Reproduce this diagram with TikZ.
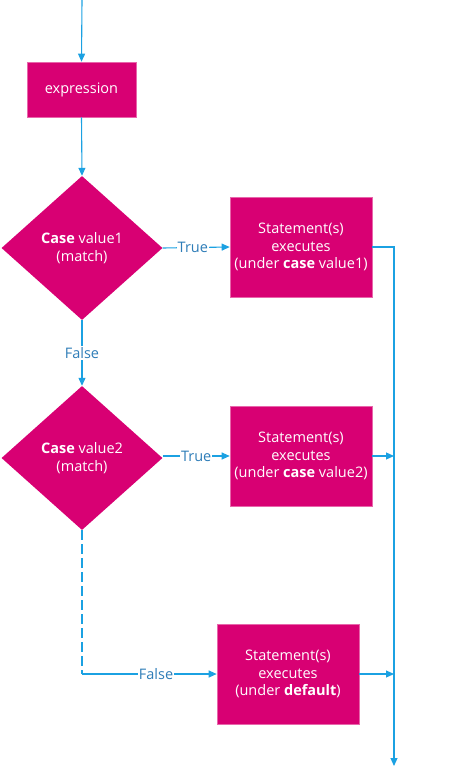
\documentclass[tikz,border=0pt]{standalone}
\usepackage{fontspec}
\setmainfont{Open Sans}
\usetikzlibrary{shapes.geometric,arrows.meta}
\definecolor{mag}{HTML}{D80073}
\definecolor{ln}{HTML}{1BA1E2}
\definecolor{lbl}{HTML}{2E7DB8}
\tikzset{
  box/.style={draw=mag!60!white, line width=0.6pt, fill=mag, text=white, minimum width=142pt, minimum height=100pt, align=center, inner sep=0pt, font=\fontsize{14.5}{17.5}\selectfont},
  dec/.style={diamond, fill=mag, text=white, minimum width=161pt, minimum height=144pt, inner sep=0pt, align=center, font=\fontsize{14.5}{17.5}\selectfont},
  conn/.style={draw=ln, line width=1.1pt},
  arr/.style={conn, -{Triangle[length=8pt,width=7pt]}},
  lab/.style={fill=white, text=lbl, inner sep=1pt, font=\fontsize{14.5}{16}\selectfont}
}
\begin{document}
\begin{tikzpicture}[x=1pt,y=-1pt]
\useasboundingbox (0,0) rectangle (455,768);
\node[box, minimum width=109pt, minimum height=55pt] (expr) at (81.5,89.5) {expression};
\node[dec] (d1) at (82,248) {\textbf{Case} value1\\(match)};
\node[dec] (d2) at (82,458) {\textbf{Case} value2\\(match)};
\node[box] (b1) at (301,247) {Statement(s)\\executes\\(under \textbf{case} value1)};
\node[box] (b2) at (301,456) {Statement(s)\\executes\\(under \textbf{case} value2)};
\node[box] (b3) at (288,674) {Statement(s)\\executes\\(under \textbf{default})};
\coordinate (start) at (82,0);
\coordinate (bt) at (394,247);
\coordinate (j2) at (394,456);
\coordinate (j3) at (394,674);
\coordinate (end) at (394,766);
\coordinate (corner) at (82,674);
\draw[arr] (start) -- (expr.north);
\draw[arr] (expr.south) -- (d1.north);
\draw[arr] (d1.east) -- node[lab, pos=0.45]{True} (b1.west);
\draw[arr] (d1.south) -- node[lab]{False} (d2.north);
\draw[arr] (d2.east |- b2.west) -- node[lab, pos=0.5]{True} (b2.west);
\draw[conn, dash pattern=on 10pt off 4pt] (d2.south) -- (corner);
\draw[arr] (corner) -- node[lab, pos=0.55]{False} (b3.west);
\draw[arr] (b1.east) -- (bt) -- (end);
\draw[arr] (b2.east) -- (j2);
\draw[arr] (b3.east) -- (j3);
\end{tikzpicture}
\end{document}
